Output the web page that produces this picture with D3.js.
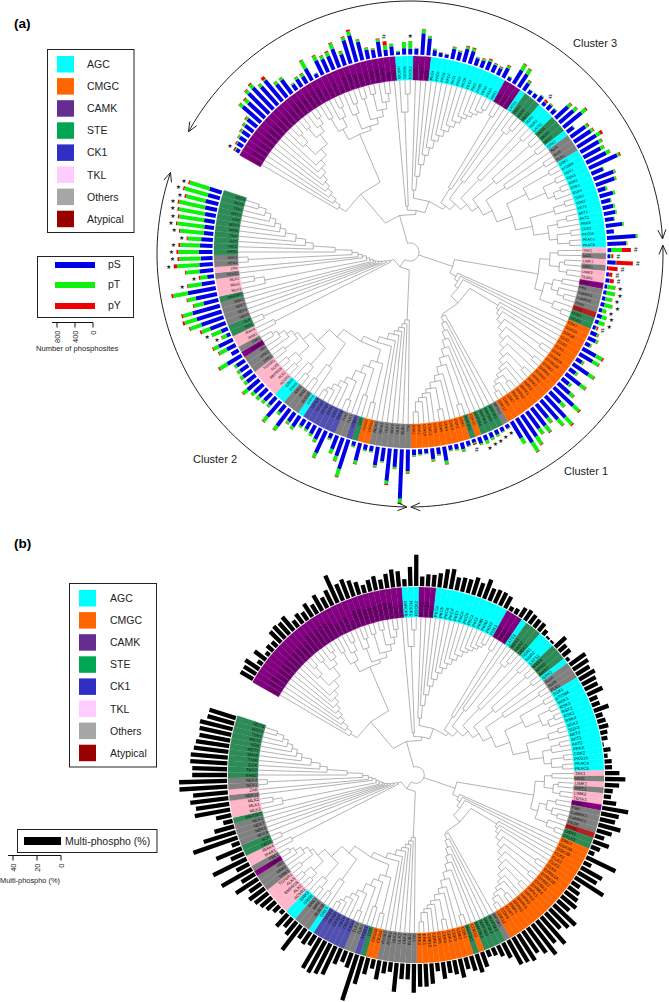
<!DOCTYPE html>
<html><head><meta charset="utf-8">
<style>html,body{margin:0;padding:0;background:#fff}svg{display:block}text{font-family:"Liberation Sans",Arial,sans-serif}</style>
<script src="https://cdnjs.cloudflare.com/ajax/libs/d3/7.8.5/d3.min.js"></script>
</head><body><svg id="c" width="669" height="1002"></svg>
<script>
const familyNames=["AGC","CMGC","CAMK","STE","CK1","TKL","Others","Atypical"];
const legendColors=["#00ffff","#ff6600","#662d91","#00a651","#2f2fc4","#ffccff","#a6a6a6","#990000"];
const ringColors={AGC:"#00ffff",CMGC:"#ff6600",CAMK:"#800080",STE:"#2e8b57",CK1:"#5050b0",TKL:"#ffb6c8",Others:"#808080",Atypical:"#b22222"};
const familyRuns=[["CAMK",32],["AGC",3],["CAMK",3],["AGC",13],["CAMK",3],["AGC",1],["STE",3],["AGC",3],["STE",3],["AGC",1],["Others",3],["AGC",17],["TKL",1],["Others",1],["TKL",1],["Others",1],["TKL",2],["CAMK",1],["Others",4],["Atypical",1],["STE",2],["CMGC",21],["Others",1],["STE",4],["CMGC",1],["STE",1],["CMGC",10],["Others",7],["CMGC",2],["STE",1],["CK1",1],["Others",2],["CK1",6],["AGC",1],["Others",3],["AGC",2],["TKL",5],["Others",3],["CAMK",1],["Others",1],["TKL",2],["STE",2],["Others",4],["STE",1],["TKL",3],["Others",1],["TKL",1],["Others",2],["STE",11]];
const kinases=["CHK2","PHKG1","PHKG2","CASK","STK33","DAPK1","DAPK2","DAPK3","DRAK1","DRAK2","CAMK4","CAMK1","CAMK1D","CAMK1G","CAMK2A","CAMK2B","CAMK2D","CAMK2G","PNCK","MYLK","MYLK2","TTN","AMPKa1","AMPKa2","BRSK1","BRSK2","MARK1","MARK2","MARK3","MARK4","SIK1","CHK1",
"MRCKb","ROCK1","ROCK2","NUAK1","NUAK2","MELK","PKCa","PKCb","PKCg","PKCd","PKCt","PKCe","PKCh","PKCz","PKCi","PKN1","PKN2","PKN3","PDK1","PKD1","PKD2","PKD3","LATS1","MEK1","MEK2","MEK3","NDR1","NDR2","LATS2","MKK4","MKK6","MKK7","GRK2","AurA","AurB","PLK1",
"SGK1","p70S6K","MSK1","RSK3","RSK2","RSK1","RSK4","SGK2","SGK3","AKT3","AKT1","AKT2","PRKX","CGK2","PKG1b","PKACa","PKACb",
"TAK1","MOS","LIMK1","WEE1","LIMK2","TESK1","PIM1","PBK","CaMKK1","CaMKK2","PASK","EF2K","OSR1","STLK3",
"ERK7","GSK3A","GSK3B","CLK1","CLK2","CLK3","CLK4","DYRK1A","DYRK1B","DYRK2","DYRK3","DYRK4","HIPK1","HIPK2","HIPK3","SRPK1","SRPK2","PRP4","CDK7","CDK9","CDK12",
"MPSK1","MAP3K1","MAP3K2","MAP3K3","MAP3K4","CDK10","MAP3K5","CDK1","CDK2","CDK3","CDK4","CDK5","CDK6","CDKL1","CDKL5","ERK1","ERK2",
"TTK","BUB1","ULK1","ULK2","ULK3","RIOK1","RIOK2","CK2a1","CK2a2","COT","TTBK1","TLK1","TLK2","CK1a","CK1d","CK1e","CK1g1","CK1g2","CK1g3","GRK5","BUB1B","BIKE","AAK1","GRK6","GRK3",
"ACVR1","ALK2","BMPR1B","ALK5","TGFbR1","VRK1","VRK2","HRI","CAMKV","TBK1","IRAK1","IRAK4","TAO1","SLK","NEK9","NEK6","NEK7","NEK2","MAP3K7","MLK3","MLK1","MLK2","NEK11","ZAK","NEK1","NEK4",
"KHS1","TAO2","GCK","TNIK","MINK","MST2","HGK","MST1","TSK1","MST3","MST4"];
const pS=[90,140,170,200,230,270,530,500,640,660,
550,600,370,380,150,200,180,300,90,350,
320,330,440,260,540,610,420,210,180,340,
140,200,60,140,120,130,480,380,130,85,
75,230,190,300,290,170,170,200,180,160,
240,85,350,340,190,95,100,145,90,130,
125,380,410,520,175,400,440,490,470,430,
490,690,280,470,440,180,310,210,240,260,
200,370,165,640,420,90,60,190,25,60,
90,60,70,75,90,75,110,90,70,150,
190,120,340,340,150,420,170,410,200,350,
590,340,650,570,400,500,470,580,640,430,
90,100,110,120,130,150,80,110,150,110,
100,320,150,240,100,110,130,480,1100,400,
720,300,410,120,120,400,100,680,430,320,
120,540,270,210,170,170,280,240,470,200,
450,220,230,250,270,340,240,240,220,220,
370,180,220,350,90,160,370,520,580,630,
340,480,630,300,150,310,300,260,300,280,
260,210,215,240,245,270,295,275,280];
const pT=[20,20,35,40,50,45,90,100,80,90,
70,30,70,55,30,50,60,200,15,110,
70,90,130,60,70,90,50,40,20,50,
100,55,30,140,175,15,90,50,25,15,
10,35,25,50,55,25,35,40,25,25,
50,15,140,115,50,10,10,15,10,25,
15,80,90,120,15,60,60,100,70,80,
90,50,20,40,35,40,45,25,40,35,
20,35,5,40,20,230,30,10,5,5,
5,170,190,150,180,90,110,130,25,35,
45,30,160,150,40,140,50,140,60,110,
170,120,210,170,120,170,140,200,230,140,
15,15,40,50,70,30,20,15,50,30,
25,70,30,40,15,20,25,40,90,40,
70,25,40,25,25,70,25,170,110,100,
30,110,70,50,45,40,70,60,110,60,
130,60,70,80,80,130,70,70,70,50,
200,0,190,130,110,220,200,260,280,220,
220,190,330,300,160,300,500,480,460,440,
300,530,610,560,590,590,445,540,460];
const pY=[35,25,15,20,15,20,10,30,20,30,
10,70,5,10,5,10,20,20,5,20,
15,25,20,20,20,40,15,10,10,20,
90,5,0,0,5,5,10,5,10,5,
5,15,10,20,25,5,15,25,15,20,
20,5,25,25,20,0,0,5,50,10,
5,20,15,25,5,25,20,60,15,10,
10,30,0,10,5,0,0,0,0,0,
0,0,0,0,5,200,40,370,210,70,
90,15,5,5,5,5,5,5,30,15,
10,5,30,20,10,20,5,15,5,15,
30,10,30,15,15,20,10,20,20,5,
5,5,5,5,5,5,30,5,10,5,
5,15,5,15,5,5,10,20,30,10,
25,5,15,5,5,15,5,25,15,10,
5,15,10,5,5,5,5,10,15,5,
20,5,5,5,5,15,5,5,5,5,
25,0,20,20,15,10,35,25,45,35,
20,20,40,20,25,20,70,40,40,40,
25,25,25,30,30,30,30,30,30];
const multiPhospho=[12,12,14,5,12,4,7,6,13,14,
13,15,7,10,8,13,9,15,10,14,
25,15,17,14,11,7,10,12,8,12,
15,13,6,16,26,8,10,10,12,16,
17,11,12,12,15,12,17,11,12,12,
11,4,5,9,10,9,8,8,5,2,
2,12,8,8,3,16,15,13,15,13,
12,14,7,7,13,6,7,8,6,5,
1,6,3,6,6,12,17,12,7,6,
11,22,15,13,19,13,8,14,8,5,
27,7,20,18,28,8,11,13,16,13,
25,22,18,30,24,32,26,22,26,24,
23,14,10,7,6,13,16,13,10,16,
12,10,14,7,17,19,19,24,13,13,
24,8,10,16,8,14,24,40,13,10,
14,26,28,30,29,10,12,10,26,14,
10,14,4,7,10,12,14,16,12,22,
13,29,12,31,12,23,7,39,28,17,
8,13,30,28,32,29,40,40,29,29,
31,31,29,28,26,27,28,23,23];
const starLeaves=[0,34,91,92,93,94,95,96,97,120,121,122,123,124,174,175,183,184,186,187,188,189,190,191,192,193,194,195,196,197,198];
const hashLeaves=[30,58,85,86,87,88,89,90,98,126];
const clusterLabels=[["Cluster 3",573,47],["Cluster 1",564,475],["Cluster 2",193,463]];
const clusterArcs=[[-3.4,-151.1],[-2,89.8],[198.8,90.7]];
const axisATicks=[800,400,0], axisBTicks=[40,20,0];

// Tree: "." is a leaf, "(a,b)r" an internal node with its radius.
const cladeX="(.,(.,(.,(.,(.,(.,(.,(.,((.,(.,.)160)150,((.,.)160,(.,(.,.)162)155)148)136)128)122)116)110)104)98)91)84";
const cladeY="(((.,.)155,(.,(.,.)160)150)140,((.,(.,.)158)148,((.,.)160,((.,.)162,(.,(.,.)160)152)145)138)132)128";
const cladeW="(.,(.,(.,.)158)140)46";
const cladeLad="(.,(.,(.,(.,(.,(.,(.,(.,(.,(.,(.,(.,(.,(.,(.,.)160)156)152)148)144)138)132)126)120)114)106)98)88)76)62";
const cladeR6="(((.,.)160,((.,.)162,((.,.)163,.)155)148)130,(((.,.)162,.)150,(((.,.)160,.)150,((.,.)162,(.,.)160)148)140)125)108";
const cladeRt="(((.,.)158,.)75,((.,(.,(.,.)158)152)88,((.,(.,.)158)100,(((.,.)160,(.,.)160)110,((.,(.,.)160)115,"+cladeR6+")92)82)74)66)58";
const cladeS="(((.,.)148,((.,.)155,(.,.)158)150)140,(((.,.)155,(.,(.,.)160)153)146,(.,(.,.)162)152)138)130";
const cladeRc="(.,(.,(.,((.,.)160,(.,((.,.)162,(.,((.,.)162,(.,(.,((.,.)162,(.,(.,.)164)158)154)150)146)140)134)128)122)116)110)106)103";
const cladeLc="(.,(.,(.,(.,(.,(.,((.,.)160,(.,(.,((.,.)160,(.,(.,(.,(.,.)160)150)146)142)138)132)126)118)110)102)94)86)78)72";
const cladeQ1="((.,.)155,((.,.)150,(.,((.,.)160,(.,(.,(.,(.,.)162)158)152)146)140)130)122)115";
const cladeQ2="((.,(.,.)158)140,(((.,.)160,.)150,(((.,.)160,(.,.)162)152,((.,.)158,(.,(.,(.,.)160)155)148)142)138)128)112";
const cladeF12="(.,(.,(.,(.,(.,(.,(.,(.,(.,(.,.)158)150)144)138)132)126)115)105)97)75";
const cladeFan="((.,.)152,((.,.)160,(.,(.,(.,(.,(.,((.,(.,.)158)148,(.,(.,((.,.)162,"+cladeF12+")58)52)48)44)41)38)36)33)30)26)22";
const treeString="((("+cladeX+","+cladeY+")76,("+cladeW+",("+cladeLad+","+cladeRt+")54)42)38,("+cladeS+",(.,(.,(.,("+cladeRc+","+cladeLc+")70)60)56)52)45,((.,(.,(.,(.,(.,(.,(.,(" +cladeQ1+","+cladeQ2+")102)96)90)84)80)76)72)68,"+cladeFan+")18)9";

function parseTree(s){let i=0;
  function node(){ if(s[i]==="."){i++;return {};} i++; const children=[];
    for(;;){children.push(node()); if(s[i]===","){i++;continue;} i++;break;}
    const m=/^\d+/.exec(s.slice(i)); i+=m[0].length; return {children,r:+m[0]}; }
  return node();}

const families=familyRuns.flatMap(([f,n])=>d3.range(n).map(()=>f));
const idx=d3.range(kinases.length);
const bandAngle=d3.scaleBand(idx,[-150.4,198.4]);
const mid=i=>bandAngle(i)+bandAngle.bandwidth()/2;
const rad=d=>(d+90)*Math.PI/180;
const svg=d3.select("#c");
const greyTree="#8a8a8a";

const root=d3.hierarchy(parseTree(treeString));
root.leaves().forEach((l,i)=>{l.data.i=i;});
root.eachAfter(n=>{ if(!n.children){n.a=mid(n.data.i);n.r=172;} else {n.a=(n.children[0].a+n.children[n.children.length-1].a)/2;n.r=n.data.r;} });

function drawPanel(o){
  const g=svg.append("g").attr("transform",`translate(${o.cx},${o.cy})`);
  const rT=d3.scaleLinear([0,172],[0,o.rIn]);
  const line=d3.line();
  const P=(a,r)=>d3.pointRadial(rad(a),rT(r));
  const tree=g.append("g").attr("fill","none").attr("stroke",greyTree).attr("stroke-width",.65);
  root.each(n=>{
    if(n.parent) tree.append("path").attr("d",line([P(n.a,n.r),P(n.a,n.parent.r)]));
    if(n.children){
      const a0=n.children[0].a,a1=n.children[n.children.length-1].a;
      const ang=(a1-a0)>90?d3.range(a0,a1,8).concat([a1]):[a0,n.a,a1];
      tree.append("path").attr("d",line(ang.map(a=>P(a,n.r))));
    }
  });
  const arc=d3.arc().innerRadius(o.rIn).outerRadius(o.rOut);
  g.append("g").selectAll("path").data(idx).join("path")
    .attr("d",i=>arc({startAngle:rad(bandAngle(i)),endAngle:rad(bandAngle(i)+bandAngle.bandwidth())}))
    .attr("fill",i=>ringColors[families[i]]).attr("stroke",i=>ringColors[families[i]]).attr("stroke-width",.25);
  g.append("g").selectAll("text").data(idx).join("text")
    .attr("transform",i=>{const t=mid(i);return Math.cos(t*Math.PI/180)>=0?`rotate(${t}) translate(${o.rIn+1},0)`:`rotate(${t+180}) translate(${-o.rIn-1},0)`;})
    .attr("text-anchor",i=>Math.cos(mid(i)*Math.PI/180)>=0?"start":"end")
    .attr("dy",".35em").attr("font-size",o.labelSize).attr("fill","#111").text(i=>kinases[i]);
  return g;
}

// Panel (a)
const gA=drawPanel({cx:410,cy:252,rIn:172,rOut:196,labelSize:3.7});
const rA=d3.scaleLinear([0,800],[197.5,197.5+36]);
const rows=idx.map(i=>({i,pS:pS[i],pT:pT[i],pY:pY[i]}));
const seriesColor={pS:"#0000e6",pT:"#0cf20c",pY:"#f00000"};
const stacked=d3.stack().keys(["pS","pT","pY"])(rows);
gA.append("g").selectAll("g").data(stacked).join("g").attr("fill",s=>seriesColor[s.key])
  .selectAll("rect").data(s=>s).join("rect")
  .attr("transform",d=>`rotate(${mid(d.data.i)})`)
  .attr("x",d=>rA(d[0])).attr("width",d=>rA(d[1])-rA(d[0])).attr("y",-2).attr("height",4);
function marks(list,glyph,size,font){
  gA.append("g").selectAll("text").data(list).join("text")
   .attr("transform",i=>{const t=mid(i),r=rA(pS[i]+pT[i]+pY[i])+5;const p=d3.pointRadial(rad(t),r);return `translate(${p[0]},${p[1]})`;})
   .attr("text-anchor","middle").attr("dy",".35em").attr("font-size",size).attr("fill","#222").style("font-family",font).text(glyph);
}
marks(starLeaves,"★",6,"DejaVu Sans");
marks(hashLeaves,"#",6.5,"Liberation Sans");

// Panel (b)
const gB=drawPanel({cx:416,cy:775,rIn:158,rOut:188,labelSize:4.3});
const rB=d3.scaleLinear([0,40],[189,189+48]);
gB.append("g").attr("fill","#000").selectAll("rect").data(idx).join("rect")
  .attr("transform",i=>`rotate(${mid(i)})`).attr("x",rB(0)).attr("width",i=>rB(multiPhospho[i])-rB(0)).attr("y",-2.15).attr("height",4.3);

// Cluster arcs, with an open arrow head at both ends
const arcsG=svg.append("g").attr("transform","translate(410,254)").attr("fill","none").attr("stroke","#222").attr("stroke-width",1);
const rArc=253;
clusterArcs.forEach(([a0,a1])=>{
  const pts=d3.range(0,1.0001,1/60).map(t=>d3.pointRadial(rad(a0+(a1-a0)*t),rArc));
  arcsG.append("path").attr("d",d3.line()(pts));
  const dir=(a1>a0?1:-1);
  [[a1,dir],[a0,-dir]].forEach(([a,dd])=>{
    const tip=d3.pointRadial(rad(a),rArc);
    [-1,1].forEach(s=>{
      const back=d3.pointRadial(rad(a-dd*2.1),rArc+s*4);
      arcsG.append("path").attr("d",d3.line()([back,tip]));
    });
  });
});
svg.append("g").selectAll("text").data(clusterLabels).join("text")
  .attr("x",d=>d[1]).attr("y",d=>d[2]).attr("font-size",11).attr("fill","#222").text(d=>d[0]);

// Panel letters
[["(a)",14,28],["(b)",14,548]].forEach(d=>svg.append("text").attr("x",d[1]).attr("y",d[2]).attr("font-size",13.5).attr("font-weight","bold").text(d[0]));

// Family legends
function famLegend(x,y,w,h,sx,tx,sy){
  svg.append("rect").attr("x",x).attr("y",y).attr("width",w).attr("height",h).attr("fill","#fff").attr("stroke","#222").attr("stroke-width",1);
  const scale=d3.scalePoint(familyNames,[sy,sy+154.7]);
  familyNames.forEach((f,i)=>{
    svg.append("rect").attr("x",sx).attr("y",scale(f)).attr("width",17).attr("height",16.5).attr("fill",legendColors[i]);
    svg.append("text").attr("x",tx).attr("y",scale(f)+12).attr("font-size",10.5).attr("fill","#222").text(f);
  });
}
famLegend(47.5,49.5,86.5,183,57,87,56);
famLegend(69.5,583.5,87,183.5,79,110,590);

// Phospho legend
svg.append("rect").attr("x",37.5).attr("y",256.5).attr("width",96).attr("height",61).attr("fill","#fff").attr("stroke","#222");
[["pS",265,seriesColor.pS],["pT",285,seriesColor.pT],["pY",306,seriesColor.pY]].forEach(d=>{
  svg.append("rect").attr("x",55).attr("y",d[1]-3).attr("width",40).attr("height",6).attr("fill",d[2]);
  svg.append("text").attr("x",108).attr("y",d[1]+3).attr("font-size",10.5).attr("fill","#222").text(d[0]);
});
function miniAxis(domain,range,y,ticks,title,tx,ty,fs){
  const s=d3.scaleLinear(domain,range);
  const ax=svg.append("g").attr("stroke","#111").attr("stroke-width",1);
  ax.append("line").attr("x1",range[0]-5).attr("x2",range[1]).attr("y1",y).attr("y2",y);
  ticks.forEach(t=>{
    ax.append("line").attr("x1",s(t)).attr("x2",s(t)).attr("y1",y).attr("y2",y+5);
    svg.append("text").attr("transform",`translate(${s(t)+2.5},${y+8}) rotate(-90)`).attr("text-anchor","end").attr("font-size",7.5).attr("fill","#222").text(t);
  });
  svg.append("text").attr("x",tx).attr("y",ty).attr("font-size",fs).attr("fill","#222").text(title);
}
miniAxis([800,0],[57,93],322.5,axisATicks,"Number of phosphosites",36,351,7.6);

// Multi-phospho legend
svg.append("rect").attr("x",17.5).attr("y",829.5).attr("width",139.5).attr("height",23).attr("fill","#fff").attr("stroke","#222");
svg.append("rect").attr("x",24).attr("y",837).attr("width",37).attr("height",8).attr("fill","#000");
svg.append("text").attr("x",65).attr("y",845).attr("font-size",10.5).attr("fill","#222").text("Multi-phospho (%)");
miniAxis([40,0],[13,61],855.5,axisBTicks,"Multi-phospho  (%)",0,883,7.4);
</script></body></html>
